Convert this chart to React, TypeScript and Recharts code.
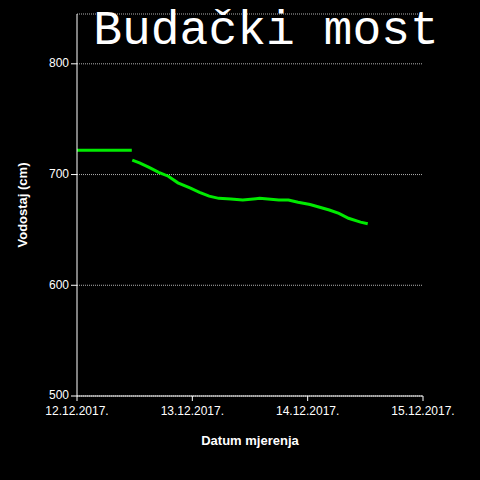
import React from 'react';
import { LineChart, Line, XAxis, YAxis, CartesianGrid } from 'recharts';

// hours since 12.12.2017. 00:00
const hours = [0, 11.4, 11.45, 11.5, 13, 15, 17, 19, 21, 23.5, 25.5, 27.5, 29.5, 32, 34.5, 38, 42, 44, 46, 48.5, 50.5, 52.5, 54.5, 56.5, 59, 60.5];
// water level (cm), null = gap in measurements
const levels = [722, 722, null, 713, 710.5, 706.5, 702, 698.5, 692.5, 688, 684, 680.5, 678.5, 678, 677, 678.5, 677, 677, 675, 673, 670.5, 668, 665, 660.5, 657, 655.5];

const dayTicks = [0, 24, 48, 72];
const dayLabels = ['12.12.2017.', '13.12.2017.', '14.12.2017.', '15.12.2017.'];
const levelTicks = [500, 600, 700, 800];

const data = hours.map((h, i) => ({ h, level: levels[i] }));

const tickStyle = { fill: '#fff', fontSize: 12, fontFamily: '"Liberation Sans", Arial, sans-serif' };

export default function App() {
  return (
    <div style={{ position: 'absolute', left: 0, top: 0, width: 480, height: 480, background: '#000' }}>
      <LineChart width={480} height={480} data={data} margin={{ top: 14, right: 57, bottom: 54, left: 0 }}>
        <CartesianGrid horizontal vertical={false} stroke="#b0b0b0" strokeDasharray="1 1" />
        <XAxis
          dataKey="h"
          type="number"
          domain={[0, 72]}
          ticks={dayTicks}
          tickFormatter={(v: number) => dayLabels[dayTicks.indexOf(v)]}
          stroke="#fff"
          tick={{ ...tickStyle, dy: 3 }}
          tickSize={5}
          height={30}
          interval={0}
        />
        <YAxis
          type="number"
          domain={[500, 845]}
          ticks={levelTicks}
          stroke="#fff"
          tick={{ ...tickStyle, dy: -1 }}
          tickSize={6}
          width={77}
          allowDataOverflow
        />
        <Line
          type="linear"
          dataKey="level"
          stroke="#00ea00"
          strokeWidth={3}
          dot={false}
          connectNulls={false}
          isAnimationActive={false}
        />
      </LineChart>
      <div style={{ position: 'absolute', left: 0, width: 532, top: 6, textAlign: 'center', color: '#fff', fontFamily: '"Liberation Mono", "Courier New", monospace', fontSize: 48, lineHeight: '50px' }}>
        Budački most
      </div>
      <div style={{ position: 'absolute', left: 22, top: 205, transform: 'translate(-50%, -50%) rotate(-90deg)', whiteSpace: 'nowrap', color: '#fff', fontFamily: '"Liberation Sans", Arial, sans-serif', fontWeight: 'bold', fontSize: 13 }}>
        Vodostaj (cm)
      </div>
      <div style={{ position: 'absolute', left: 0, width: 500, top: 433, textAlign: 'center', color: '#fff', fontFamily: '"Liberation Sans", Arial, sans-serif', fontWeight: 'bold', fontSize: 13 }}>
        Datum mjerenja
      </div>
    </div>
  );
}
